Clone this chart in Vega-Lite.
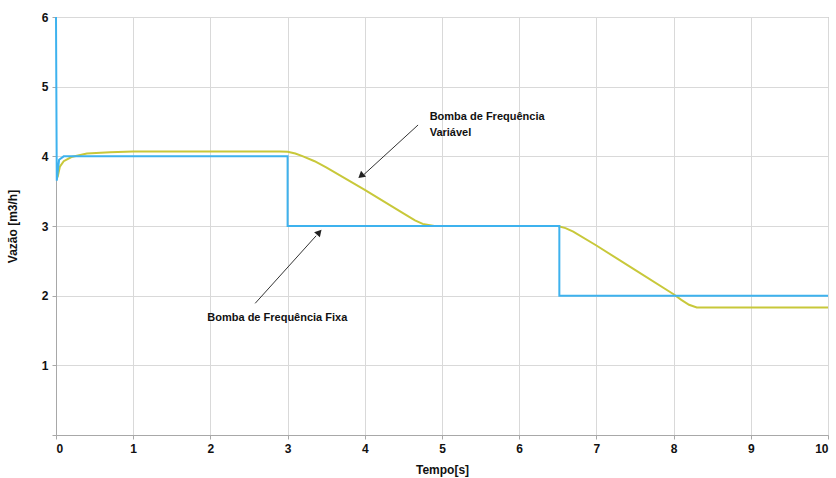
{
  "$schema": "https://vega.github.io/schema/vega-lite/v6.json",
  "width": 772,
  "height": 418,
  "autosize": "none",
  "padding": {"left": 56, "top": 17, "right": 8, "bottom": 43},
  "background": "white",
  "config": {
    "view": {"stroke": "#a8a8a8", "strokeWidth": 1},
    "font": "Liberation Sans",
    "axis": {
      "labelFont": "Liberation Sans", "labelFontWeight": "bold", "labelFontSize": 12, "labelColor": "#111",
      "titleFont": "Liberation Sans", "titleFontWeight": "bold", "titleFontSize": 12, "titleColor": "#111",
      "gridColor": "#d9d9d9", "gridWidth": 1, "domainColor": "#a8a8a8", "tickColor": "#a8a8a8", "tickSize": 4
    }
  },
  "datasets": {
    "series": [
      {"s": "Variável", "i": 1, "t": 0.02, "v": 3.7},
      {"s": "Variável", "i": 2, "t": 0.05, "v": 3.85},
      {"s": "Variável", "i": 3, "t": 0.1, "v": 3.93},
      {"s": "Variável", "i": 4, "t": 0.2, "v": 3.99},
      {"s": "Variável", "i": 5, "t": 0.4, "v": 4.04},
      {"s": "Variável", "i": 6, "t": 0.7, "v": 4.06},
      {"s": "Variável", "i": 7, "t": 1.0, "v": 4.07},
      {"s": "Variável", "i": 8, "t": 2.9, "v": 4.07},
      {"s": "Variável", "i": 9, "t": 3.0, "v": 4.065},
      {"s": "Variável", "i": 10, "t": 3.1, "v": 4.04},
      {"s": "Variável", "i": 11, "t": 3.2, "v": 4.0},
      {"s": "Variável", "i": 12, "t": 3.35, "v": 3.93},
      {"s": "Variável", "i": 13, "t": 3.5, "v": 3.84},
      {"s": "Variável", "i": 14, "t": 4.0, "v": 3.52},
      {"s": "Variável", "i": 15, "t": 4.5, "v": 3.18},
      {"s": "Variável", "i": 16, "t": 4.65, "v": 3.08},
      {"s": "Variável", "i": 17, "t": 4.75, "v": 3.03},
      {"s": "Variável", "i": 18, "t": 4.9, "v": 3.0},
      {"s": "Variável", "i": 19, "t": 6.5, "v": 3.0},
      {"s": "Variável", "i": 20, "t": 6.6, "v": 2.97},
      {"s": "Variável", "i": 21, "t": 6.7, "v": 2.92},
      {"s": "Variável", "i": 22, "t": 7.0, "v": 2.72},
      {"s": "Variável", "i": 23, "t": 7.5, "v": 2.37},
      {"s": "Variável", "i": 24, "t": 8.0, "v": 2.02},
      {"s": "Variável", "i": 25, "t": 8.1, "v": 1.94},
      {"s": "Variável", "i": 26, "t": 8.2, "v": 1.87},
      {"s": "Variável", "i": 27, "t": 8.3, "v": 1.83},
      {"s": "Variável", "i": 28, "t": 10.0, "v": 1.83},
      {"s": "Fixa", "i": 1, "t": 0.0, "v": 6.0},
      {"s": "Fixa", "i": 2, "t": 0.01, "v": 3.65},
      {"s": "Fixa", "i": 3, "t": 0.04, "v": 3.95},
      {"s": "Fixa", "i": 4, "t": 0.1, "v": 4.0},
      {"s": "Fixa", "i": 5, "t": 3.0, "v": 4.0},
      {"s": "Fixa", "i": 6, "t": 3.0, "v": 3.0},
      {"s": "Fixa", "i": 7, "t": 6.52, "v": 3.0},
      {"s": "Fixa", "i": 8, "t": 6.52, "v": 2.0},
      {"s": "Fixa", "i": 9, "t": 10.0, "v": 2.0}
    ],
    "labels": [
      {"t": 4.84, "v": 4.56, "txt": "Bomba de Frequência"},
      {"t": 4.84, "v": 4.33, "txt": "Variável"},
      {"t": 1.96, "v": 1.68, "txt": "Bomba de Frequência Fixa"}
    ]
  },
  "layer": [
    {
      "data": {"name": "series"},
      "mark": {"type": "line", "strokeWidth": 2, "interpolate": "linear"},
      "encoding": {
        "x": {"field": "t", "type": "quantitative", "scale": {"domain": [0, 10], "nice": false},
              "axis": {"values": [0,1,2,3,4,5,6,7,8,9,10], "format": "d", "title": "Tempo[s]", "titlePadding": 10, "labelPadding": 4}},
        "y": {"field": "v", "type": "quantitative", "scale": {"domain": [0, 6], "nice": false},
              "axis": {"values": [0,1,2,3,4,5,6], "format": "d", "labelExpr": "datum.value == 0 ? '' : datum.label", "title": "Vazão [m3/h]", "titlePadding": 22, "labelPadding": 4}},
        "color": {"field": "s", "type": "nominal", "scale": {"domain": ["Variável", "Fixa"], "range": ["#c8c83a", "#3eb2ee"]}, "legend": null},
        "order": {"field": "i", "type": "quantitative"}
      }
    },
    {
      "data": {"values": [{"t": 4.69, "v": 4.45, "t2": 3.99, "v2": 3.74}]},
      "mark": {"type": "rule", "color": "#333", "strokeWidth": 1},
      "encoding": {
        "x": {"field": "t", "type": "quantitative"}, "y": {"field": "v", "type": "quantitative"},
        "x2": {"field": "t2"}, "y2": {"field": "v2"}
      }
    },
    {
      "data": {"values": [{"t": 3.95, "v": 3.72}]},
      "mark": {"type": "point", "shape": "triangle-up", "filled": true, "color": "#222", "size": 60, "angle": 230, "opacity": 1},
      "encoding": {"x": {"field": "t", "type": "quantitative"}, "y": {"field": "v", "type": "quantitative"}}
    },
    {
      "data": {"values": [{"t": 2.58, "v": 1.89, "t2": 3.37, "v2": 2.86}]},
      "mark": {"type": "rule", "color": "#333", "strokeWidth": 1},
      "encoding": {
        "x": {"field": "t", "type": "quantitative"}, "y": {"field": "v", "type": "quantitative"},
        "x2": {"field": "t2"}, "y2": {"field": "v2"}
      }
    },
    {
      "data": {"values": [{"t": 3.41, "v": 2.91}]},
      "mark": {"type": "point", "shape": "triangle-up", "filled": true, "color": "#222", "size": 60, "angle": 42, "opacity": 1},
      "encoding": {"x": {"field": "t", "type": "quantitative"}, "y": {"field": "v", "type": "quantitative"}}
    },
    {
      "data": {"name": "labels"},
      "mark": {"type": "text", "align": "left", "baseline": "middle", "fontWeight": "bold", "fontSize": 11, "font": "Liberation Sans", "color": "#111"},
      "encoding": {
        "x": {"field": "t", "type": "quantitative"}, "y": {"field": "v", "type": "quantitative"},
        "text": {"field": "txt"}
      }
    }
  ]
}
